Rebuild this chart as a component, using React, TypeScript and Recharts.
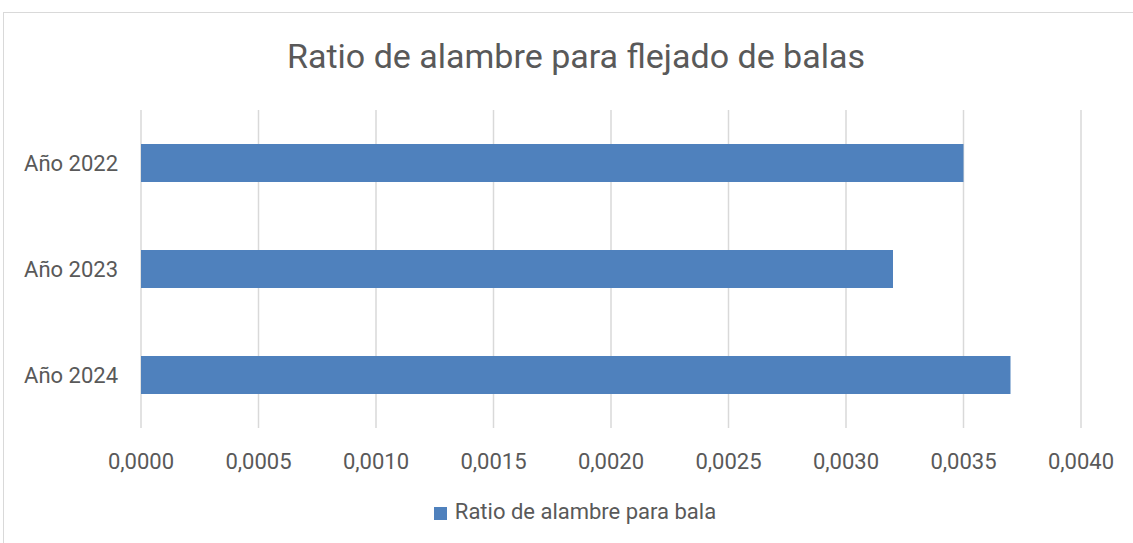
import React from 'react';
import { BarChart, Bar, XAxis, YAxis, CartesianGrid, Legend } from 'recharts';

const categories = ['Año 2022', 'Año 2023', 'Año 2024'];
const ratioValues = [0.0035, 0.0032, 0.0037];
const xTicks = [0, 0.0005, 0.001, 0.0015, 0.002, 0.0025, 0.003, 0.0035, 0.004];
const seriesName = 'Ratio de alambre para bala';
const title = 'Ratio de alambre para flejado de balas';

const data = categories.map((c, i) => ({ name: c, value: ratioValues[i] }));

const FONT = 'Roboto, "Liberation Sans", sans-serif';
const TEXT = '#595959';

const fmt = (v: number) => v.toFixed(4).replace('.', ',');

export default function App() {
  return (
    <div style={{ position: 'absolute', left: 0, top: 0, width: 1133, height: 543, background: '#fff', fontFamily: FONT }}>
      <div style={{ position: 'absolute', left: 3, top: 12, width: 1140, height: 540, border: '1px solid #d9d9d9', boxSizing: 'border-box' }} />
      <div style={{ position: 'absolute', left: 0, top: 36, width: 1152, textAlign: 'center', fontSize: 34, color: TEXT, fontFamily: FONT }}>
        {title}
      </div>
      <div style={{ position: 'absolute', left: 0, top: 0 }}>
        <BarChart
          width={1133}
          height={543}
          data={data}
          layout="vertical"
          margin={{ top: 110, right: 52, bottom: 25, left: 21 }}
          barCategoryGap="32%"
        >
          <CartesianGrid horizontal={false} stroke="#d9d9d9" strokeWidth={1.5} />
          <XAxis
            type="number"
            domain={[0, 0.004]}
            ticks={xTicks}
            tickFormatter={fmt}
            axisLine={false}
            tickLine={false}
            tickSize={0}
            tickMargin={25}
            height={60}
            tick={{ fill: TEXT, fontSize: 22, fontFamily: FONT }}
            interval={0}
          />
          <YAxis
            type="category"
            dataKey="name"
            width={120}
            axisLine={false}
            tickLine={false}
            tickSize={0}
            tickMargin={23}
            tick={{ fill: TEXT, fontSize: 22, fontFamily: FONT }}
          />
          <Legend
            verticalAlign="bottom"
            iconType="square"
            iconSize={13}
            wrapperStyle={{ position: 'absolute', top: 499, left: 4, width: 1152, height: 30, fontSize: 22, fontFamily: FONT }}
            formatter={(v: string) => <span style={{ color: TEXT, marginLeft: 4 }}>{v}</span>}
          />
          <Bar dataKey="value" name={seriesName} fill="#4f81bd" isAnimationActive={false} />
        </BarChart>
      </div>
    </div>
  );
}
